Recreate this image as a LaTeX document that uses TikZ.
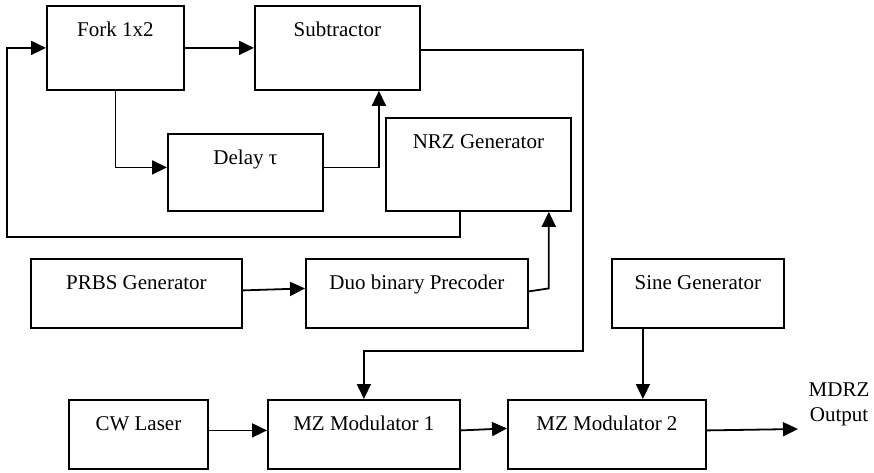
\documentclass[tikz,border=0pt]{standalone}
\usepackage{fontspec}
\setmainfont{Liberation Serif}
\usetikzlibrary{arrows.meta}
\tikzset{>={Triangle[length=15pt,width=14pt]},
  every node/.style={font=\fontsize{21}{25}\selectfont},
  blk/.style={draw,anchor=north west,inner sep=0pt,text height=31pt},
  conn/.style={->}}

\begin{document}
\begin{tikzpicture}[x=1pt,y=-1pt,line width=1.8pt]
\useasboundingbox(0,0)rectangle(874,472);
\foreach \n/\x/\y/\w/\d/\t in {fork/46/5/137/53/Fork 1x2,sub/254/5/165/53/Subtractor,delay/167/133/155/46/Delay τ,
  nrz/385/117/185/62/NRZ Generator,prbs/30/258/211/38/PRBS Generator,duo/305/258/222/38/Duo binary Precoder,
  sine/611/258/172/38/Sine Generator,cw/68/399/139/38/CW Laser,mz1/267/399/192/38/MZ Modulator 1,
  mz2/507/399/198/38/MZ Modulator 2}{\node[blk,minimum width=\w pt,text depth=\d pt](\n)at(\x,\y){\t};}
\node[align=center,inner sep=0pt](mdrz)at(839,404){MDRZ\\Output};
\coordinate(tip)at(798,429);
% feedback and differential encoder
\draw[conn]([xshift=-18.5pt]nrz.south)|-(7,237)|-(fork.west);
\draw[conn](fork.east)--(sub.west);
\draw[conn](fork.south)|-([yshift=5pt]delay.west);
\draw[conn]([yshift=5pt]delay.east)-|([xshift=41.5pt]sub.south);
\draw[conn]([yshift=-2pt]sub.east)-|(583,351)-|(mz1.north);
% data path
\draw[conn]([yshift=3pt]prbs.east)--([yshift=5pt]duo.west);
\draw[conn]([yshift=2pt]duo.east)--++(20,-3)coordinate(bend)--(bend|-nrz.south);
\draw[conn]([xshift=-55pt]sine.south)--([xshift=-55pt]sine.south|-mz2.north);
\draw[conn]([yshift=4pt]cw.east)--([yshift=4pt]mz1.west);
\draw[conn]([yshift=4pt]mz1.east)--([yshift=6pt]mz2.west);
\draw[conn]([yshift=4pt]mz2.east)--(tip);
\end{tikzpicture}
\end{document}
